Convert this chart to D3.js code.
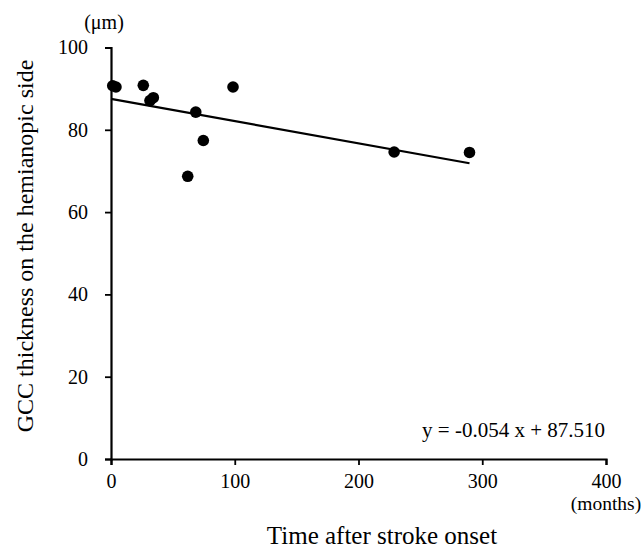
<!DOCTYPE html>
<html>
<head>
<meta charset="utf-8">
<script src="https://cdn.jsdelivr.net/npm/d3@7"></script>
<style>
  body { margin: 0; background: #fff; }
  text { font-family: "Liberation Serif", "Times New Roman", serif; fill: #000; }
</style>
</head>
<body>
<svg id="chart" width="641" height="548"></svg>
<script>
// data
const months = [1.4, 4.0, 26.1, 31.5, 34.2, 68.5, 98.6, 74.6, 62.0, 228.8, 289.7];
const gcc = [90.7, 90.4, 90.8, 87.1, 87.8, 84.3, 90.4, 77.4, 68.7, 74.6, 74.5];
const xTicks = [0, 100, 200, 300, 400];
const yTicks = [0, 20, 40, 60, 80, 100];
const slope = -0.054;
const intercept = 87.510;

const svg = d3.select('#chart');
const margin = { left: 111, right: 35, top: 47.5, bottom: 89 };
const width = 641, height = 548;

const x = d3.scaleLinear().domain([0, 400]).range([margin.left, width - margin.right]);
const y = d3.scaleLinear().domain([0, 100]).range([height - margin.bottom, margin.top]);

// assen
const xAxis = svg.append('g')
  .attr('transform', 'translate(0,' + y(0) + ')')
  .call(d3.axisBottom(x).tickValues(xTicks).tickSize(6).tickPadding(9));
const yAxis = svg.append('g')
  .attr('transform', 'translate(' + x(0) + ',0)')
  .call(d3.axisLeft(y).tickValues(yTicks).tickSize(6).tickPadding(17));

[xAxis, yAxis].forEach(g => {
  g.select('.domain').attr('stroke', '#000').attr('stroke-width', 2.2);
  g.selectAll('.tick line').attr('stroke', '#000').attr('stroke-width', 1.8);
  g.selectAll('.tick text')
    .style('font-family', '"Liberation Serif", serif')
    .style('font-size', '20px')
    .attr('fill', '#000');
});

// regressielijn
const xMax = d3.max(months);
svg.append('line')
  .attr('x1', x(0)).attr('y1', y(intercept))
  .attr('x2', x(xMax)).attr('y2', y(intercept + slope * xMax))
  .attr('stroke', '#000').attr('stroke-width', 2.2);

// punten
svg.selectAll('circle')
  .data(months.map((m, i) => [m, gcc[i]]))
  .enter()
  .append('circle')
  .attr('cx', d => x(d[0]))
  .attr('cy', d => y(d[1]))
  .attr('r', 5.8)
  .attr('fill', '#000');

// teksten
svg.append('text')
  .attr('x', 605).attr('y', 437)
  .attr('text-anchor', 'end')
  .style('font-size', '21px')
  .text('y = -0.054 x + 87.510');

svg.append('text')
  .attr('x', 104).attr('y', 29)
  .attr('text-anchor', 'middle')
  .style('font-size', '20px')
  .text('(μm)');

svg.append('text')
  .attr('x', 606).attr('y', 510)
  .attr('text-anchor', 'middle')
  .style('font-size', '19.5px')
  .text('(months)');

svg.append('text')
  .attr('x', 382).attr('y', 544)
  .attr('text-anchor', 'middle')
  .style('font-size', '25px')
  .text('Time after stroke onset');

svg.append('text')
  .attr('transform', 'translate(33,246) rotate(-90)')
  .attr('text-anchor', 'middle')
  .style('font-size', '24px')
  .text('GCC thickness on the hemianopic side');
</script>
</body>
</html>
